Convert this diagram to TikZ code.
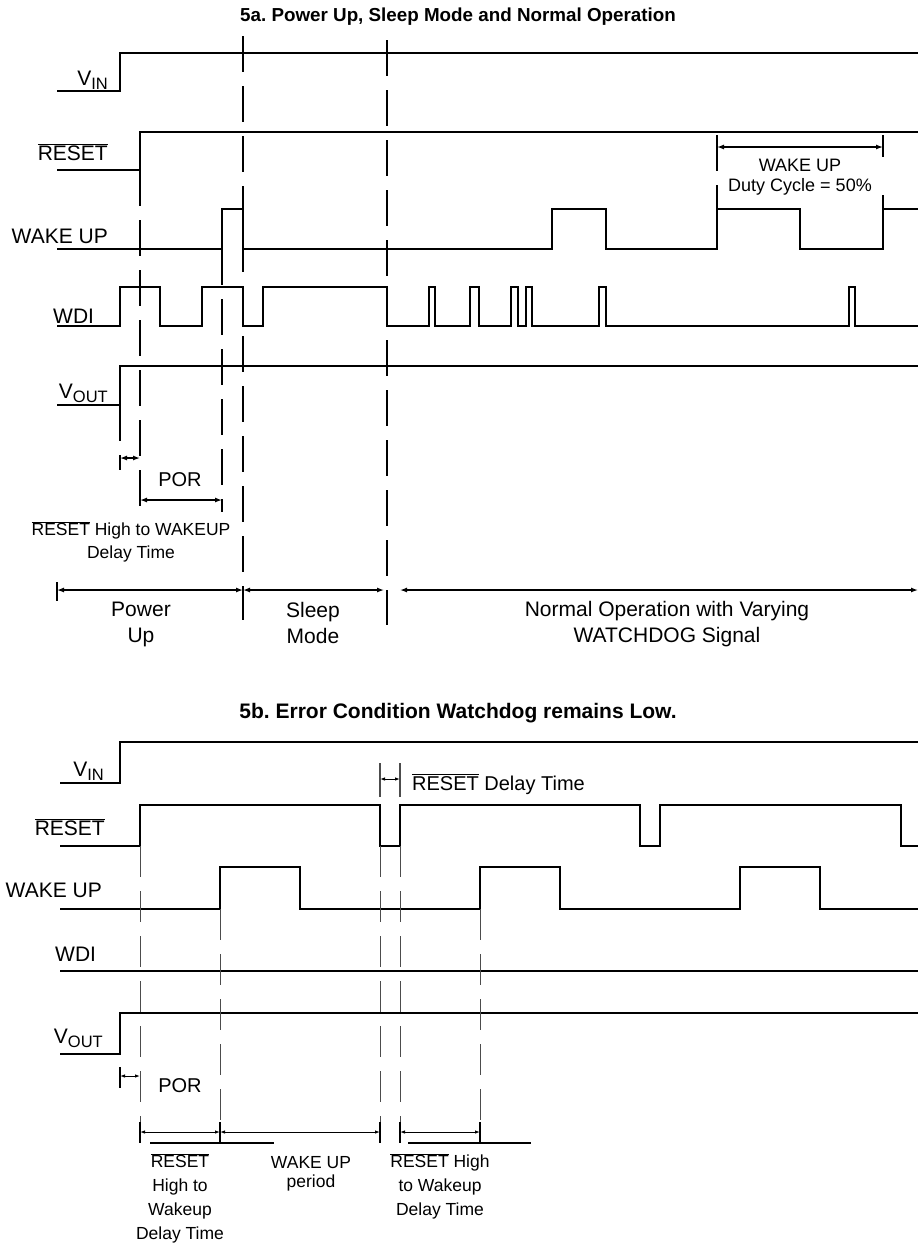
\documentclass[tikz,border=0pt]{standalone}
\usepackage{fontspec}
\setmainfont{Liberation Sans}
\usetikzlibrary{arrows.meta}
\frenchspacing

\newcommand{\nt}[1]{\ensuremath{\overline{\mbox{#1}}}}
\newcommand{\vs}[1]{V\raisebox{-4pt}{\fontsize{16.5}{16.5}\selectfont #1}}

\tikzset{
  wave/.style={line width=1.8pt},
  guideA/.style={line width=1.8pt,dash pattern=on 36pt off 14pt},
  guideB/.style={line width=0.9pt,black!70,dash pattern=on 31pt off 14pt},
  dimA/.style={line width=1.3pt,{Latex[length=7pt,width=5pt]}-{Latex[length=7pt,width=5pt]}},
  dimB/.style={line width=0.9pt,{Latex[length=5pt,width=3.5pt]}-{Latex[length=5pt,width=3.5pt]}},
  tickB/.style={line width=1.2pt},
  lab/.style={inner sep=0pt,font=\fontsize{21}{25}\selectfont},
  note/.style={inner sep=0pt,align=center,font=\fontsize{17.5}{24}\selectfont},
  ttl/.style={inner sep=0pt,font=\bfseries\fontsize{18.8}{22}\selectfont},
}

\begin{document}
\begin{tikzpicture}[x=1pt,y=-1pt]
\useasboundingbox (0,0) rectangle (918,1245);

% 5a: power up, sleep, normal operation
\path node[ttl,anchor=base] (T1) at (458,21) {5a. Power Up, Sleep Mode and Normal Operation}
node[lab,anchor=base east] (VIN1) at (108,85) {\vs{IN}}
node[lab,anchor=base east] (RST1) at (108,160) {\nt{RESET}}
node[lab,anchor=base east] (WAK1) at (108,243) {WAKE UP}
node[lab,anchor=base west] (WDI1) at (53,323) {WDI}
node[lab,anchor=base east] (VOUT1) at (108,398) {\vs{OUT}}
;
\draw[wave] (57,91) -- (120,91) -- (120,53) -- (918,53);
\draw[wave] (57,170) -- (140,170) -- (140,132) -- (918,132);
\draw[wave] (57,249) -| (222,209) -| (243,249) -| (552,209) -| (606,249)
  -| (717,209) -| (800,249) -| (883,209) -- (918,209);
\draw[wave] (57,326) -| (120,287) -| (160,326) -| (202,287) -| (243,326)
  -| (263,287) -| (387,326) -| (429,287) -| (435,326) -| (470,287)
  -| (479,326) -| (511,287) -| (518,326) -| (526,287) -| (532,326)
  -| (599,287) -| (606,326) -| (849,287) -| (855,326) -- (918,326);
\draw[wave] (57,405) -- (120,405) -- (120,366) -- (918,366);

\draw[guideA] (120,405) -- (120,470);
\draw[guideA] (140,170) -- (140,512);
\draw[guideA] (222,249) -- (222,512);
\draw[guideA] (243,36) -- (243,620);
\draw[guideA] (387,40) -- (387,625);
\draw[guideA] (717,135) -- (717,209);
\draw[line width=1.8pt,dash pattern=on 22pt off 38pt] (883,135) -- (883,209);
\draw[line width=1.8pt] (57,582) -- (57,601);

\path coordinate (dc1) at (717,147) coordinate (dc2) at (883,147)
coordinate (vo1) at (120,458) coordinate (vo2) at (140,458)
coordinate (por1) at (140,500) coordinate (por2) at (222,500)
coordinate (pu1) at (57,590) coordinate (pu2) at (243,590)
coordinate (sm2) at (384,590)
coordinate (no1) at (400,590) coordinate (no2) at (918,590)
;
\draw[dimA] (dc1) -- (dc2);
\draw[dimA] (vo1) -- (vo2);
\draw[dimA] (por1) -- (por2);
\draw[dimA] (pu1) -- (pu2);
\draw[dimA] (pu2) -- (sm2);
\draw[dimA] (no1) -- (no2);

\path node[note,anchor=north,font=\fontsize{18}{19.5}\selectfont] (duty) at (800,159) {WAKE UP\\Duty Cycle = 50\%}
node[lab,anchor=base,font=\fontsize{20}{24}\selectfont] (por) at (180,486) {POR}
node[note,anchor=north,font=\fontsize{17.5}{23}\selectfont] (rhw) at (131,521) {\nt{RESET} High to WAKEUP\\Delay Time}
node[lab,anchor=north,align=center,font=\fontsize{21}{26}\selectfont] (pwr) at (141,602) {Power\\Up}
node[lab,anchor=north,align=center,font=\fontsize{21}{26}\selectfont] (slp) at (313,602) {Sleep\\Mode}
node[lab,anchor=north,align=center,font=\fontsize{21}{26}\selectfont] (nrm) at (667,601) {Normal Operation with Varying\\WATCHDOG Signal}
;

% 5b: error condition
\path node[ttl,anchor=base,font=\bfseries\fontsize{21}{24}\selectfont] (T2) at (458,718) {5b. Error Condition Watchdog remains Low.}
node[lab,anchor=base east] (VIN2) at (104,776) {\vs{IN}}
node[lab,anchor=base east] (RST2) at (105,835) {\nt{RESET}}
node[lab,anchor=base east] (WAK2) at (102,897) {WAKE UP}
node[lab,anchor=base west] (WDI2) at (55,961) {WDI}
node[lab,anchor=base east] (VOUT2) at (103,1043) {\vs{OUT}}
;
\draw[wave] (60,783) -- (120,783) -- (120,742) -- (918,742);
\draw[wave] (60,846) -| (140,805) -| (380,846) -| (400,805) -| (640,846)
  -| (660,805) -| (901,846) -- (918,846);
\draw[wave] (60,909) -| (220,867) -| (300,909) -| (480,867) -| (560,909)
  -| (740,867) -| (820,909) -- (918,909);
\draw[wave] (60,971) -- (918,971);
\draw[wave] (60,1054) -- (120,1054) -- (120,1013) -- (918,1013);

\draw[guideB] (140,846) -- (140,1122);
\draw[guideB] (220,909) -- (220,1122);
\draw[guideB] (380,846) -- (380,1122);
\draw[guideB] (400,846) -- (400,1122);
\draw[guideB] (480,909) -- (480,1122);
\draw[tickB,black!70] (380,763) -- (380,797);
\draw[tickB,black!70] (400,763) -- (400,797);
\draw[tickB] (120,1067) -- (120,1088);
\foreach \x in {140,220,380,400,480}
  \draw[tickB] (\x,1122) -- (\x,1143);
\draw[tickB] (150,1143) -- (274,1143);
\draw[tickB] (408,1143) -- (531,1143);

\path coordinate (rd1) at (380,779) coordinate (rd2) at (400,779)
coordinate (vb1) at (120,1076) coordinate (vb2) at (140,1076)
coordinate (e1) at (140,1132) coordinate (e2) at (220,1132)
coordinate (e3) at (380,1132)
coordinate (e4) at (400,1132) coordinate (e5) at (480,1132)
;
\draw[dimB] (rd1) -- (rd2);
\draw[dimB] (vb1) -- (vb2);
\draw[dimB] (e1) -- (e2);
\draw[dimB] (e2) -- (e3);
\draw[dimB] (e4) -- (e5);

\path node[lab,anchor=base west,font=\fontsize{20}{24}\selectfont] (rdt) at (412,790) {\nt{RESET} Delay Time}
node[lab,anchor=base,font=\fontsize{20}{24}\selectfont] (por2) at (180,1092) {POR}
node[note,anchor=north] (rh1) at (180,1153) {\nt{RESET}\\High to\\Wakeup\\Delay Time}
node[note,anchor=north,font=\fontsize{17.5}{19}\selectfont] (wup) at (311,1156) {WAKE UP\\period}
node[note,anchor=north] (rh2) at (440,1153) {\nt{RESET} High\\to Wakeup\\Delay Time}
;
\end{tikzpicture}
\end{document}
